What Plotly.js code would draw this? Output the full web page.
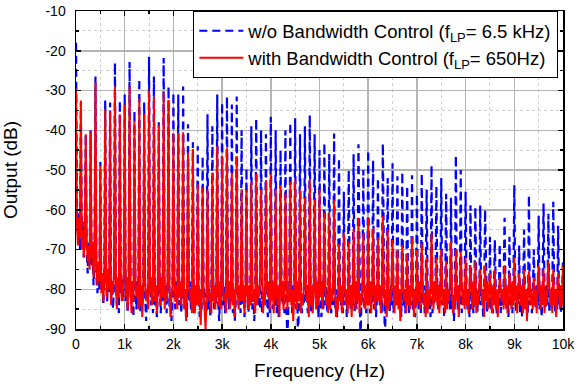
<!DOCTYPE html>
<html>
<head>
<meta charset="utf-8">
<script src="https://cdn.plot.ly/plotly-3.0.1.min.js"></script>
<style>
html,body{margin:0;padding:0;background:#fff;}
#chart{width:583px;height:386px;}
</style>
</head>
<body>
<div id="chart"></div>
<script>
// Harmonic frequencies (Hz)
const peakHz = [0,100,200,300,400,500,600,700,800,900,
 1000,1100,1200,1300,1400,1500,1600,1700,1800,1900,
 2000,2100,2200,2300,2400,2500,2600,2700,2800,2900,
 3000,3100,3200,3300,3400,3500,3600,3700,3800,3900,
 4000,4100,4200,4300,4400,4500,4600,4700,4800,4900,
 5000,5100,5200,5300,5400,5500,5600,5700,5800,5900,
 6000,6100,6200,6300,6400,6500,6600,6700,6800,6900,
 7000,7100,7200,7300,7400,7500,7600,7700,7800,7900,
 8000,8100,8200,8300,8400,8500,8600,8700,8800,8900,
 9000,9100,9200,9300,9400,9500,9600,9700,9800,9900,10000];

// Floor sample offsets between harmonics (Hz)
const floorOffsetHz = [20,40,60,80];

// w/o Bandwidth Control: harmonic peak levels (dB)
const bluePeaks = [-18,-33,-41,-40,-26.5,-48,-32.5,-33,-23,-32.5,
 -31,-22.8,-35,-27,-33,-21.5,-26.5,-38,-21.8,-29,
 -30.5,-31,-29,-38.5,-43,-44,-46.5,-36,-39,-31,
 -33,-31.5,-33.5,-31.5,-40,-49.5,-39,-37,-40,-41,
 -36.6,-40,-45,-40,-38,-37,-41,-39,-36.2,-41,
 -45,-43.2,-46,-40.8,-47,-55.5,-50,-46,-43.5,-50,
 -45,-47.5,-52,-43.3,-52,-48.3,-51.6,-50.5,-54,-51.3,
 -56,-50.9,-55,-48.8,-54,-52,-56,-57,-46.3,-50,
 -55.5,-58.9,-59.3,-58.9,-60,-66.8,-67.6,-68.5,-62,-66.8,
 -53.8,-69,-65,-56.3,-70,-61.5,-58.4,-61,-58,-64,-72];

// with Bandwidth Control: harmonic peak levels (dB)
const redPeaks = [-29.5,-32.5,-41,-40.5,-28,-49,-35,-35.3,-29,-36,
 -33.6,-29,-37.8,-32,-36,-30,-31.7,-38.6,-30.5,-32.4,
 -41,-40.7,-40.5,-45.6,-45,-53.6,-54.4,-55,-50.7,-44,
 -46.5,-44.5,-50.7,-46.5,-55,-55,-53,-51,-55,-52.5,
 -51,-55,-53.9,-56,-53,-52.6,-55,-57,-52.5,-57.3,
 -55,-60.7,-60.7,-57.5,-68.6,-66,-68,-64.8,-62,-66,
 -62,-64.7,-67,-61.5,-65,-67.6,-70,-68.9,-71,-66.8,
 -70,-68.5,-72,-66,-72,-70,-73,-68,-70,-70.5,
 -72,-74,-73,-75,-74,-76,-75,-77,-74,-76,
 -72,-76,-75,-75.5,-77,-74,-75,-73,-75,-76,-74];

// w/o Bandwidth Control: noise floor between harmonics (dB), 4 per gap
const blueFloor = [
 -58,-66,-61,-70, -68,-63,-72,-66, -70,-76,-68,-74, -74,-70,-79,-73, -77,-81,-75,-80,
 -80,-76,-84,-78, -79,-83,-76,-81, -82,-78,-85,-79, -78,-84,-80,-86, -81,-77,-83,-79,
 -83,-79,-86,-80, -78,-84,-79,-87, -80,-85,-78,-83, -86,-80,-84,-79, -82,-88,-80,-84,
 -79,-84,-80,-86, -84,-80,-87,-81, -80,-86,-79,-83, -83,-79,-86,-80, -85,-81,-88,-82,
 -80,-85,-78,-83, -84,-79,-86,-81, -79,-84,-80,-87, -83,-78,-85,-80, -86,-81,-84,-79,
 -82,-87,-80,-85, -79,-84,-81,-86, -85,-80,-87,-82, -80,-85,-79,-84, -83,-88,-81,-85,
 -84,-79,-86,-81, -80,-85,-79,-83, -86,-81,-88,-83, -79,-84,-80,-86, -84,-80,-87,-82,
 -80,-86,-81,-84, -85,-80,-88,-82, -79,-84,-80,-85, -86,-81,-84,-79, -82,-87,-80,-86,
 -81,-85,-79,-84, -86,-80,-87,-82, -79,-84,-81,-86, -84,-92,-85,-80, -81,-86,-79,-84,
 -85,-80,-93,-82, -80,-86,-81,-84, -83,-79,-86,-80, -86,-81,-85,-79, -80,-85,-81,-87,
 -82,-87,-80,-85, -84,-79,-86,-81, -80,-86,-82,-84, -85,-80,-87,-82, -79,-84,-80,-86,
 -84,-80,-87,-81, -80,-85,-79,-84, -86,-81,-85,-80, -82,-94,-84,-80, -85,-80,-86,-82,
 -80,-86,-81,-84, -85,-80,-87,-82, -79,-84,-80,-86, -83,-93,-85,-80, -81,-86,-79,-84,
 -86,-81,-84,-79, -80,-85,-81,-87, -84,-80,-86,-81, -80,-86,-79,-84, -85,-80,-87,-82,
 -81,-85,-80,-86, -84,-79,-86,-81, -80,-85,-81,-87, -86,-81,-84,-80, -80,-85,-79,-84,
 -84,-80,-87,-82, -79,-84,-80,-85, -85,-81,-88,-82, -80,-85,-79,-84, -86,-81,-84,-80,
 -80,-85,-81,-87, -85,-80,-86,-81, -81,-86,-80,-84, -84,-80,-87,-82, -80,-86,-79,-85,
 -85,-80,-86,-81, -80,-86,-81,-84, -86,-81,-84,-79, -80,-85,-80,-87, -84,-79,-86,-81,
 -81,-86,-80,-84, -86,-80,-87,-82, -79,-84,-81,-86, -84,-80,-86,-81, -80,-85,-79,-84,
 -85,-80,-87,-82, -80,-85,-79,-84, -86,-81,-84,-80, -81,-86,-80,-85, -84,-80,-86,-82];

// with Bandwidth Control: noise floor between harmonics (dB), 4 per gap
const redFloor = [
 -64,-69,-62,-67, -70,-65,-72,-68, -67,-73,-69,-75, -72,-68,-77,-71, -75,-79,-73,-78,
 -81,-76,-83,-78, -77,-82,-75,-80, -84,-78,-81,-76, -79,-85,-77,-82, -78,-83,-80,-76,
 -82,-77,-85,-79, -80,-86,-78,-83, -77,-82,-79,-85, -84,-79,-87,-81, -78,-83,-80,-85,
 -81,-77,-84,-79, -83,-79,-86,-80, -79,-84,-77,-82, -85,-80,-83,-78, -80,-87,-82,-79,
 -78,-83,-79,-85, -82,-78,-84,-80, -85,-81,-88,-79, -79,-83,-80,-86, -82,-86,-79,-84,
 -84,-80,-89,-82, -81,-85,-90,-83, -78,-83,-81,-86, -83,-79,-85,-80, -80,-84,-78,-85,
 -79,-83,-81,-86, -82,-78,-85,-80, -84,-80,-87,-81, -80,-85,-79,-83, -83,-79,-86,-81,
 -81,-85,-79,-84, -78,-83,-80,-86, -84,-79,-82,-77, -80,-86,-81,-84, -79,-82,-78,-85,
 -83,-78,-86,-80, -80,-84,-79,-87, -82,-78,-85,-81, -79,-85,-80,-83, -84,-80,-88,-82,
 -80,-85,-78,-83, -86,-81,-84,-79, -79,-83,-80,-87, -84,-79,-86,-81, -80,-85,-78,-84,
 -82,-78,-85,-80, -79,-84,-81,-86, -85,-80,-83,-78, -80,-87,-82,-85, -83,-79,-86,-81,
 -79,-84,-80,-86, -84,-79,-87,-81, -80,-85,-78,-83, -86,-81,-84,-79, -81,-85,-79,-84,
 -84,-78,-86,-80, -80,-85,-79,-83, -83,-79,-86,-81, -78,-84,-80,-87, -85,-80,-83,-78,
 -80,-86,-79,-84, -85,-80,-88,-82, -79,-83,-80,-86, -84,-79,-85,-81, -81,-87,-80,-84,
 -83,-78,-85,-80, -79,-84,-81,-87, -86,-80,-84,-79, -80,-85,-78,-83, -84,-79,-86,-82,
 -79,-84,-80,-86, -85,-80,-83,-78, -80,-86,-82,-85, -83,-79,-87,-81, -78,-84,-80,-85,
 -84,-80,-86,-79, -80,-85,-78,-84, -86,-81,-84,-79, -79,-84,-80,-87, -83,-78,-85,-80,
 -81,-86,-79,-84, -85,-80,-87,-82, -79,-83,-80,-85, -84,-79,-86,-81, -80,-85,-78,-84,
 -83,-79,-86,-80, -80,-84,-79,-86, -85,-80,-88,-82, -79,-84,-81,-85, -84,-80,-86,-79,
 -80,-85,-79,-84, -86,-81,-84,-79, -79,-84,-80,-86, -84,-80,-87,-81, -81,-85,-79,-84];

const xTickVals = [0,1000,2000,3000,4000,5000,6000,7000,8000,9000,10000];
const xTickText = ['0','1k','2k','3k','4k','5k','6k','7k','8k','9k','10k'];
const yTickVals = [-90,-80,-70,-60,-50,-40,-30,-20,-10];
const yTickText = ['-90','-80','-70','-60','-50','-40','-30','-20','-10'];

const seriesNames = ['w/o Bandwidth Control (f<sub>LP</sub>= 6.5 kHz)',
                     'with Bandwidth Control (f<sub>LP</sub>= 650Hz)'];

function buildSpectrum(peaks, floor) {
  const x = [], y = [];
  const n = floorOffsetHz.length;
  for (let k = 0; k < peakHz.length; k++) {
    x.push(peakHz[k]); y.push(peaks[k]);
    if (k < peakHz.length - 1) {
      for (let j = 0; j < n; j++) {
        x.push(peakHz[k] + floorOffsetHz[j]);
        y.push(floor[k * n + j]);
      }
    }
  }
  return {x, y};
}

const blue = buildSpectrum(bluePeaks, blueFloor);
const red = buildSpectrum(redPeaks, redFloor);

const FONT = 'Arial, "Liberation Sans", sans-serif';

const traces = [
  {x: blue.x, y: blue.y, type: 'scatter', mode: 'lines', name: seriesNames[0],
   line: {color: '#0000ff', width: 2.2, dash: '8px,5px'}},
  {x: red.x, y: red.y, type: 'scatter', mode: 'lines', name: seriesNames[1],
   line: {color: '#ff0000', width: 2}}
];

const axisCommon = {
  showline: true, linecolor: '#000', linewidth: 1.5, mirror: 'allticks',
  ticks: 'inside', ticklen: 5, tickwidth: 1.5, tickcolor: '#000',
  showgrid: true, gridcolor: '#b4b4b4', gridwidth: 1.5,
  zeroline: false,
  tickfont: {family: FONT, size: 14, color: '#000'}
};

const layout = {
  width: 583, height: 386,
  margin: {l: 76, r: 20, t: 11, b: 57, pad: 0},
  paper_bgcolor: '#fff', plot_bgcolor: '#fff',
  font: {family: FONT, color: '#000'},
  showlegend: true,
  legend: {
    x: 0.99, xanchor: 'right', y: 1.0, yanchor: 'top',
    itemwidth: 44,
    bgcolor: '#fff', bordercolor: '#000', borderwidth: 1.2,
    font: {family: FONT, size: 18.5, color: '#000'}
  },
  xaxis: Object.assign({}, axisCommon, {
    range: [0, 10000], tickmode: 'array', tickvals: xTickVals, ticktext: xTickText,
    ticklabelstandoff: 2,
    minor: {dtick: 500, ticks: 'inside', ticklen: 3, tickcolor: '#000', showgrid: true,
            gridcolor: '#cfcfcf', griddash: 'dot', gridwidth: 1},
    title: {text: 'Frequency (Hz)', font: {family: FONT, size: 19, color: '#000'}, standoff: 12}
  }),
  yaxis: Object.assign({}, axisCommon, {
    range: [-90, -10], tickmode: 'array', tickvals: yTickVals, ticktext: yTickText,
    ticklabelstandoff: 6,
    minor: {dtick: 5, ticks: 'inside', ticklen: 3, tickcolor: '#000', showgrid: true,
            gridcolor: '#cfcfcf', griddash: 'dot', gridwidth: 1},
    title: {text: 'Output (dB)', font: {family: FONT, size: 19, color: '#000'}, standoff: 24}
  })
};

Plotly.newPlot('chart', traces, layout, {staticPlot: true, displayModeBar: false});
</script>
</body>
</html>
